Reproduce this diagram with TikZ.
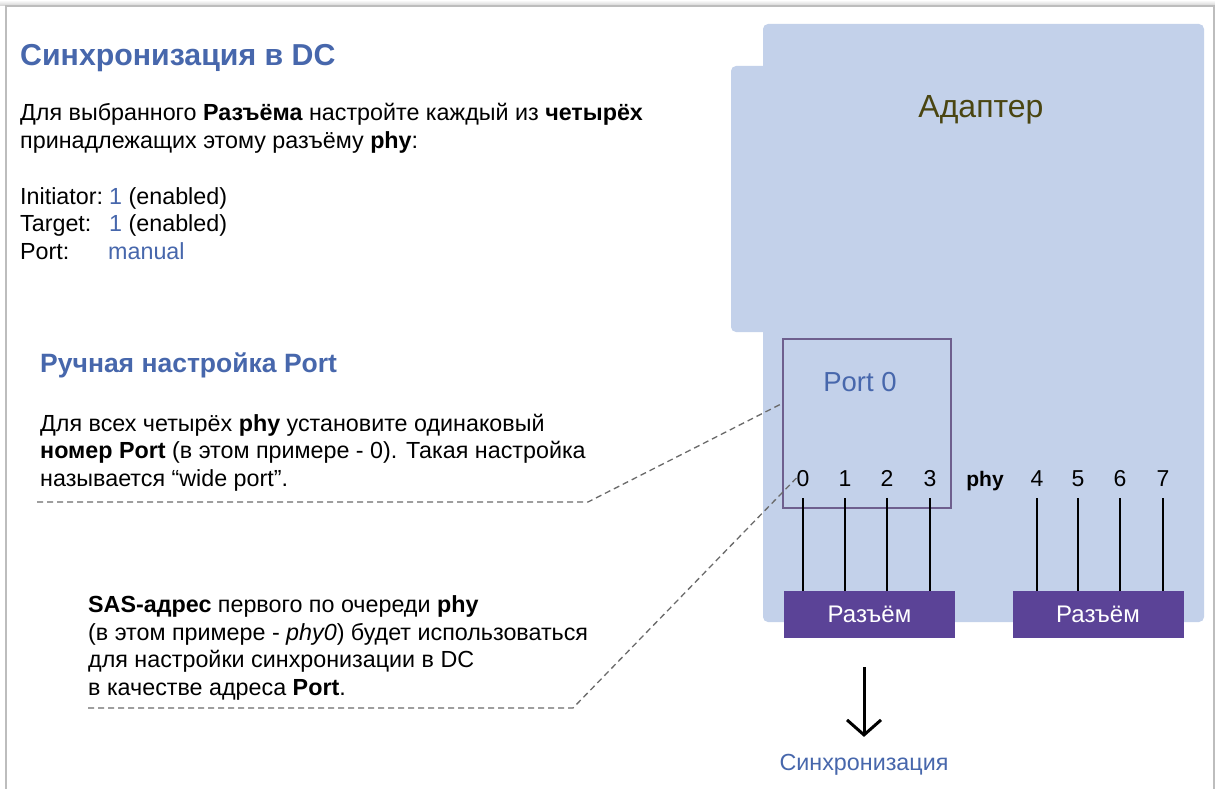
\documentclass[tikz,border=0pt]{standalone}
\usepackage{fontspec}
\setmainfont{Liberation Sans}
\usetikzlibrary{positioning,calc,arrows.meta}
\definecolor{accent}{HTML}{4767AC}
\definecolor{adapterfill}{HTML}{C3D1EA}
\definecolor{portline}{HTML}{6E5F8E}
\definecolor{connfill}{HTML}{5B4397}
\definecolor{olive}{HTML}{4A4511}
\definecolor{frame}{HTML}{BDBDBD}
\definecolor{dash}{HTML}{6A6A6A}
\tikzset{
  body/.style={font=\fontsize{23.3}{27.5}\selectfont, align=left, inner sep=0pt, anchor=base west},
  head/.style={font=\bfseries\fontsize{30.3}{34}\selectfont, text=accent, inner sep=0pt, anchor=base west},
  subhead/.style={font=\bfseries\fontsize{26.5}{30}\selectfont, text=accent, inner sep=0pt, anchor=base west},
  portbox/.style={draw=portline, line width=1.5pt, minimum width=168pt, minimum height=169pt, inner sep=0pt},
  conbox/.style={fill=connfill, text=white, font=\fontsize{24}{28}\selectfont, minimum width=171pt, minimum height=47pt, inner sep=0pt},
  phylab/.style={font=\fontsize{23}{26}\selectfont, inner sep=0pt, anchor=base},
  phyline/.style={line width=2.3pt},
  callout/.style={draw=dash, line width=1.3pt, dash pattern=on 6pt off 4pt},
  blob/.style={fill=adapterfill, rounded corners=5pt}
}
\begin{document}
\begin{tikzpicture}[x=1pt, y=-1pt]
  \useasboundingbox (0,0) rectangle (1215,789);
  % card
  \fill[white] (0,0) rectangle (1215,789);
  \shade[top color=white, bottom color=frame!70] (0,0) rectangle (1215,6);
  \draw[frame, line width=2pt, fill=white] (6,6) rectangle (1214,800);

  % adapter body
  \fill[blob] (763,24) rectangle (1204,622);
  \fill[blob] (731,66) rectangle (775,332);
  \node[font=\fontsize{32}{36}\selectfont, text=olive] (adapter) at (981,110) {Адаптер};

  % port 0 with phy 0..7
  \node[portbox] (port) at (867,423.5) {};
  \node[font=\fontsize{27.5}{30}\selectfont, text=accent] (portlab) at (860,382) {Port 0};
  \node[conbox] (con1) at (869.5,614.5) {Разъём};
  \node[conbox] (con2) at (1098,614.5) {Разъём};
  \foreach \i/\x in {0/803,1/845,2/887,3/930}{
    \node[phylab] (phy\i) at (\x,486) {\i};
    \draw[phyline] ([yshift=-20pt]phy\i.center) -- (phy\i |- con1.north);
  }
  \foreach \i/\x in {4/1037,5/1078,6/1120,7/1163}{
    \node[phylab] (phy\i) at (\x,486) {\i};
    \draw[phyline] ([yshift=-20pt]phy\i.center) -- (phy\i |- con2.north);
  }
  \node[phylab, font=\bfseries\fontsize{21}{24}\selectfont] (phy) at (985,486) {phy};

  % sync arrow
  \node[font=\fontsize{23.3}{26}\selectfont, text=accent] (sync) at (864,765) {Синхронизация};
  \draw[line width=3pt, -{Straight Barb[length=15pt, width=34pt]}, shorten <=29pt, shorten >=14pt]
    (sync.north |- con1.south) -- (sync.north);

  % left text
  \node[head] (title) at (20,66) {Синхронизация в DC};
  \node[body] (intro) at (20,148) {Для выбранного \textbf{Разъёма} настройте каждый из \textbf{четырёх}\\
    принадлежащих этому разъёму \textbf{phy}:};
  \node[body] (params) at (20,259) {\makebox[89pt][l]{Initiator:}\textcolor{accent}{1} (enabled)\\
    \makebox[89pt][l]{Target:}\textcolor{accent}{1} (enabled)\\
    \makebox[88pt][l]{Port:}\textcolor{accent}{manual}};
  \node[subhead] (manual) at (40,372) {Ручная настройка Port};
  \node[body] (wide) at (40,486) {Для всех четырёх \textbf{phy} установите одинаковый\\
    \textbf{номер Port} (в этом примере - 0). Такая настройка\\
    называется “wide port”.};
  \node[body] (sas) at (88,695) {\textbf{SAS-адрес} первого по очереди \textbf{phy}\\
    (в этом примере - \textit{phy0}) будет использоваться\\
    для настройки синхронизации в DC\\
    в качестве адреса \textbf{Port}.};

  % callouts
  \coordinate (c1a) at (37,502);
  \coordinate (c1b) at (588,502);
  \coordinate (c1c) at (783,403);
  \draw[callout] (c1a) -- (c1b) -- (c1c);
  \coordinate (c2a) at (88,708);
  \coordinate (c2b) at (573,708);
  \draw[callout] (c2a) -- (c2b) -- (phy0.west);
\end{tikzpicture}
\end{document}
